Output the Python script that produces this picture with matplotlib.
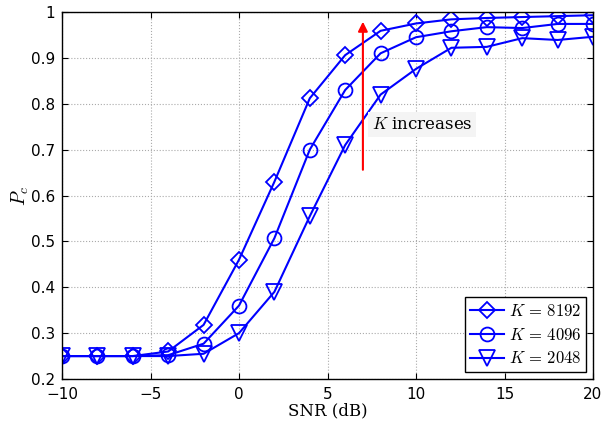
import matplotlib
matplotlib.use('Agg')
import matplotlib.pyplot as plt

snr = [-10, -8, -6, -4, -2, 0, 2, 4, 6, 8, 10, 12, 14, 16, 18, 20]
pc_8192 = [0.25, 0.25, 0.25, 0.26, 0.318, 0.46, 0.63, 0.812, 0.906, 0.959,
           0.975, 0.984, 0.987, 0.989, 0.991, 0.993]
pc_4096 = [0.25, 0.25, 0.25, 0.252, 0.277, 0.36, 0.507, 0.70, 0.83, 0.91,
           0.945, 0.958, 0.967, 0.965, 0.974, 0.974]
pc_2048 = [0.25, 0.25, 0.25, 0.25, 0.255, 0.30, 0.39, 0.555, 0.71, 0.82,
           0.876, 0.922, 0.924, 0.943, 0.939, 0.946]
labels = ['$K\\,=\\,8192$', '$K\\,=\\,4096$', '$K\\,=\\,2048$']
markers = ['D', 'o', 'v']
sizes = [8, 10, 11]

plt.rcParams['mathtext.fontset'] = 'cm'
plt.rcParams['font.family'] = ['DejaVu Sans']

fig = plt.figure(figsize=(6.13, 4.25), dpi=100)
ax = fig.add_axes([62 / 613, 1 - 379 / 425, 531 / 613, 367 / 425])

for y, lab, m, ms in zip([pc_8192, pc_4096, pc_2048], labels, markers, sizes):
    ax.plot(snr, y, color='blue', marker=m, markersize=ms, markerfacecolor='none',
            markeredgecolor='blue', markeredgewidth=1.3, linewidth=1.5, label=lab)

ax.set_xlim(-10, 20)
ax.set_ylim(0.2, 1.0)
ax.set_xticks([-10, -5, 0, 5, 10, 15, 20])
ax.set_yticks([0.2, 0.3, 0.4, 0.5, 0.6, 0.7, 0.8, 0.9, 1.0])
ax.set_xticklabels(['\u221210', '\u22125', '0', '5', '10', '15', '20'])
ax.set_yticklabels(['0.2', '0.3', '0.4', '0.5', '0.6', '0.7', '0.8', '0.9', '1'])
ax.tick_params(direction='in', top=True, right=True, labelsize=11, length=4)
ax.tick_params(axis='x', pad=6)
ax.tick_params(axis='y', pad=5)
ax.grid(True, linestyle=':', color='#aaaaaa', linewidth=0.8)
for s in ax.spines.values():
    s.set_linewidth(1.0)

ax.set_xlabel('SNR (dB)', family='DejaVu Serif', fontsize=12, labelpad=0)
ax.set_ylabel('$P_c$', fontsize=14, labelpad=0)

# arrow showing trend
ax.annotate('', xy=(7, 0.985), xytext=(7, 0.65),
            arrowprops=dict(arrowstyle='-|>', color='red', lw=1.5, mutation_scale=14))
ax.text(7.5, 0.745, '$K$ increases', fontsize=12, family='DejaVu Serif',
        bbox=dict(facecolor='#f4f4f4', edgecolor='none', pad=3))

leg = ax.legend(loc='lower right', fontsize=12, fancybox=False, framealpha=1,
                edgecolor='black', handlelength=2.0, borderpad=0.3,
                labelspacing=0.35, handletextpad=0.3, borderaxespad=0.4)
leg.get_frame().set_linewidth(1.0)

plt.savefig('out.png', dpi=100)
